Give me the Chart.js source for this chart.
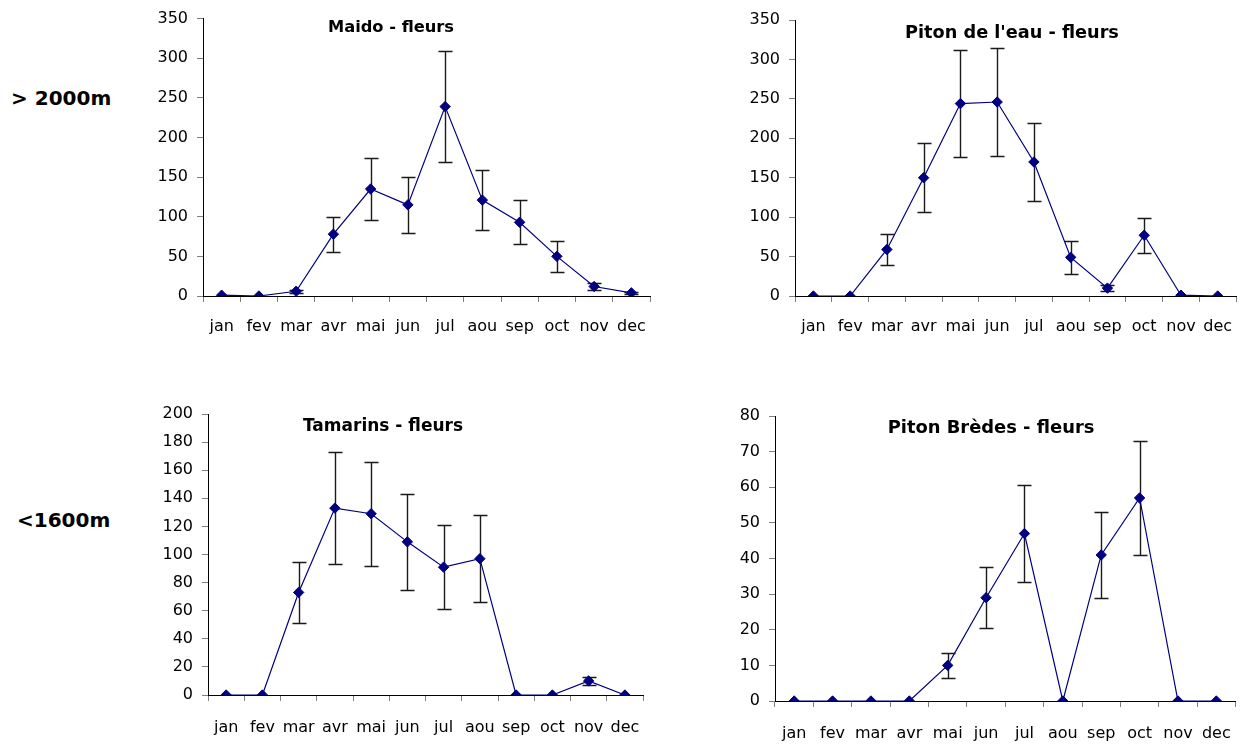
<!DOCTYPE html>
<html>
<head>
<meta charset="utf-8">
<script src="https://cdn.jsdelivr.net/npm/chart.js@4.4.1/dist/chart.umd.min.js"></script>
<style>
  html, body { margin: 0; padding: 0; background: #fff; }
  body { width: 1248px; height: 744px; position: relative; overflow: hidden; font-family: "DejaVu Sans", sans-serif; }
  .panel { position: absolute; }
  .panel canvas { display: block; }
  .row { position: absolute; font: bold 20px/20px "DejaVu Sans", sans-serif; color: #000; white-space: nowrap; }
</style>
</head>
<body>
<div class="row" style="left:11px;top:88px">&gt; 2000m</div>
<div class="row" style="left:17px;top:510px">&lt;1600m</div>

<div class="panel" style="left:150px;top:0px"><canvas id="maido" width="520" height="350"></canvas></div>
<div class="panel" style="left:740px;top:0px"><canvas id="pitonEau" width="508" height="350"></canvas></div>
<div class="panel" style="left:150px;top:390px"><canvas id="tamarins" width="510" height="354"></canvas></div>
<div class="panel" style="left:720px;top:390px"><canvas id="bredes" width="528" height="354"></canvas></div>

<script>
// Months of the year (x categories)
const months = ['jan', 'fev', 'mar', 'avr', 'mai', 'jun', 'jul', 'aou', 'sep', 'oct', 'nov', 'dec'];

// Mean flower counts per month and their error margins (±)
const maidoValues    = [1, 0, 6, 78, 135, 115, 239, 121, 93, 50, 12, 4];
const maidoErrors    = [0, 0, 2, 22, 39, 35, 70, 38, 28, 20, 5, 1];

const pitonEauValues = [0, 0, 59, 150, 244, 246, 170, 49, 10, 77, 1, 0];
const pitonEauErrors = [0, 0, 20, 44, 68, 69, 50, 21, 4, 22, 0, 0];

const tamarinsValues = [0, 0, 73, 133, 129, 109, 91, 97, 0, 0, 10, 0];
const tamarinsErrors = [0, 0, 22, 40, 37, 34, 30, 31, 0, 0, 3, 0];

const bredesValues   = [0, 0, 0, 0, 10, 29, 47, 0, 41, 57, 0, 0];
const bredesErrors   = [0, 0, 0, 0, 3.5, 8.5, 13.5, 0, 12, 16, 0, 0];

// Y-axis tick values
const ticks350 = [0, 50, 100, 150, 200, 250, 300, 350];
const ticks200 = [0, 20, 40, 60, 80, 100, 120, 140, 160, 180, 200];
const ticks80  = [0, 10, 20, 30, 40, 50, 60, 70, 80];

// Vertical error bars with caps, drawn under the markers
const errorBars = {
  id: 'errorBars',
  beforeDatasetsDraw(chart, args, opts) {
    const meta = chart.getDatasetMeta(0);
    const yScale = chart.scales.y;
    const values = chart.data.datasets[0].data;
    const ctx = chart.ctx;
    ctx.save();
    ctx.strokeStyle = opts.color;
    ctx.lineWidth = opts.width;
    meta.data.forEach((pt, i) => {
      const e = opts.errors[i];
      if (!e) return;
      const x = Math.round(pt.x) + 0.5;
      const yTop = Math.round(yScale.getPixelForValue(values[i] + e)) + 0.5;
      const yBot = Math.round(yScale.getPixelForValue(values[i] - e)) + 0.5;
      ctx.beginPath();
      ctx.moveTo(x, yTop); ctx.lineTo(x, yBot);
      ctx.moveTo(x - opts.cap, yTop); ctx.lineTo(x + opts.cap, yTop);
      ctx.moveTo(x - opts.cap, yBot); ctx.lineTo(x + opts.cap, yBot);
      ctx.stroke();
    });
    ctx.restore();
  }
};

// Panel title drawn inside the plot area
const panelTitle = {
  id: 'panelTitle',
  afterDraw(chart, args, opts) {
    const ctx = chart.ctx;
    ctx.save();
    ctx.font = 'bold ' + opts.size + 'px "DejaVu Sans", sans-serif';
    ctx.fillStyle = '#000';
    ctx.textAlign = 'center';
    ctx.textBaseline = 'alphabetic';
    ctx.fillText(opts.text, opts.x, opts.y);
    ctx.restore();
  }
};

function makePanel(id, cfg) {
  new Chart(document.getElementById(id), {
    type: 'line',
    data: {
      labels: months,
      datasets: [{
        data: cfg.values,
        borderColor: '#000080',
        borderWidth: 1.2,
        backgroundColor: '#000080',
        pointStyle: 'rectRot',
        pointRadius: 5.2,
        pointBorderWidth: 1,
        pointBorderColor: '#000080',
        pointBackgroundColor: '#000080',
        tension: 0,
        fill: false
      }]
    },
    options: {
      responsive: false,
      animation: false,
      events: [],
      layout: { padding: { top: cfg.padTop, right: cfg.padRight, left: 0, bottom: 0 } },
      plugins: {
        legend: { display: false },
        tooltip: { enabled: false },
        errorBars: { errors: cfg.errors, color: '#1a1a1a', width: 1.4, cap: 7 },
        panelTitle: { text: cfg.title, x: cfg.titleX, y: cfg.titleY, size: cfg.titleSize }
      },
      scales: {
        x: {
          type: 'category',
          offset: true,
          afterFit(s) { s.height = cfg.xHeight; },
          grid: { offset: true, drawOnChartArea: false, drawTicks: true, tickLength: 6, color: '#808080' },
          border: { color: '#000', width: 1 },
          ticks: {
            color: '#000', padding: cfg.xPad, maxRotation: 0, autoSkip: false,
            font: { family: '"DejaVu Sans", sans-serif', size: 16 }
          }
        },
        y: {
          min: 0,
          max: cfg.ticks[cfg.ticks.length - 1],
          afterBuildTicks(s) { s.ticks = cfg.ticks.map(v => ({ value: v })); },
          afterFit(s) { s.width = cfg.yWidth; },
          grid: { drawOnChartArea: false, drawTicks: true, tickLength: 6, color: '#808080' },
          border: { color: '#000', width: 1 },
          ticks: {
            color: '#000', padding: 9,
            font: { family: '"DejaVu Sans", sans-serif', size: 16 }
          }
        }
      }
    },
    plugins: [errorBars, panelTitle]
  });
}

makePanel('maido', {
  values: maidoValues, errors: maidoErrors, ticks: ticks350,
  title: 'Maido - fleurs', titleX: 241, titleY: 32, titleSize: 16.3,
  padTop: 16, padRight: 20, yWidth: 53, xHeight: 54, xPad: 15.5
});

makePanel('pitonEau', {
  values: pitonEauValues, errors: pitonEauErrors, ticks: ticks350,
  title: "Piton de l'eau - fleurs", titleX: 272, titleY: 37.5, titleSize: 17.7,
  padTop: 20, padRight: 9, yWidth: 55, xHeight: 54, xPad: 15.5
});

makePanel('tamarins', {
  values: tamarinsValues, errors: tamarinsErrors, ticks: ticks200,
  title: 'Tamarins - fleurs', titleX: 233, titleY: 40.7, titleSize: 17,
  padTop: 24, padRight: 17, yWidth: 58, xHeight: 49, xPad: 17
});

makePanel('bredes', {
  values: bredesValues, errors: bredesErrors, ticks: ticks80,
  title: 'Piton Brèdes - fleurs', titleX: 271, titleY: 43.3, titleSize: 17.9,
  padTop: 26, padRight: 6, yWidth: 55, xHeight: 43, xPad: 17
});
</script>
</body>
</html>
